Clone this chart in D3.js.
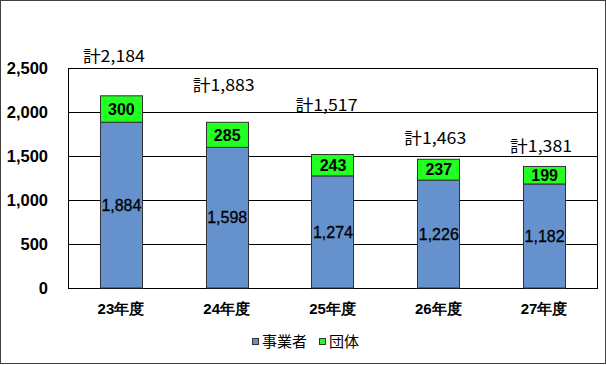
<!DOCTYPE html>
<html>
<head>
<meta charset="utf-8">
<script src="https://cdn.jsdelivr.net/npm/d3@7"></script>
<style>
  body { margin: 0; background: #fff; }
  svg text { font-family: "Liberation Sans", Arial, sans-serif; }
  .jp { font-family: "Noto Sans CJK JP", sans-serif; }
</style>
</head>
<body>
<div id="chart"></div>
<script>
// data
var years = ["23年度", "24年度", "25年度", "26年度", "27年度"];
var jigyosha = [1884, 1598, 1274, 1226, 1182];
var dantai = [300, 285, 243, 237, 199];
var totals = [2184, 1883, 1517, 1463, 1381];
var yTicks = [0, 500, 1000, 1500, 2000, 2500];
var seriesNames = ["事業者", "団体"];
var seriesColors = ["#6591cd", "#22ff22"];

// where the hand-placed "計" labels sit (value units) and their x nudge
var totalLabelAt = [2630, 2300, 2080, 1700, 1610];
var totalLabelDx = [-7, -3, -6, -3, -3];

var w = 606, h = 365;
var margin = {top: 68, right: 9, bottom: 77, left: 68};

var svg = d3.select("#chart").append("svg")
    .attr("width", w)
    .attr("height", h);

// outer frame
svg.append("rect")
    .attr("x", 0.5).attr("y", 0.5)
    .attr("width", w - 1).attr("height", h - 2)
    .attr("fill", "#fff")
    .attr("stroke", "#404040");

var xScale = d3.scaleBand()
    .domain(years)
    .range([margin.left, w - margin.right])
    .paddingInner(0.6)
    .paddingOuter(0.3);

var yScale = d3.scaleLinear()
    .domain([0, 2500])
    .range([h - margin.bottom, margin.top]);

// gridlines
svg.append("g").selectAll("line").data(yTicks.slice(1, -1))
    .enter().append("line")
    .attr("x1", margin.left).attr("x2", w - margin.right)
    .attr("y1", function(d) { return Math.round(yScale(d)) + 0.5; })
    .attr("y2", function(d) { return Math.round(yScale(d)) + 0.5; })
    .attr("stroke", "#000");

// plot border
svg.append("rect")
    .attr("x", margin.left + 0.5).attr("y", Math.round(yScale(2500)) + 0.5)
    .attr("width", w - margin.right - margin.left)
    .attr("height", Math.round(yScale(0)) - Math.round(yScale(2500)))
    .attr("fill", "none")
    .attr("stroke", "#000");

// y axis labels
var yAxis = d3.axisLeft(yScale).tickValues(yTicks).tickSize(0).tickPadding(20)
    .tickFormat(d3.format(","));
var yAxisGroup = svg.append("g")
    .attr("transform", "translate(" + [margin.left, 0] + ")")
    .call(yAxis);
yAxisGroup.select(".domain").remove();
yAxisGroup.selectAll("text")
    .attr("font-family", "'Liberation Sans', Arial, sans-serif")
    .attr("font-size", 16.5)
    .attr("font-weight", "bold")
    .attr("fill", "#000");

// x axis labels
var xAxis = d3.axisBottom(xScale).tickSize(0).tickPadding(15);
var xAxisGroup = svg.append("g")
    .attr("transform", "translate(" + [0, yScale(0)] + ")")
    .call(xAxis);
xAxisGroup.select(".domain").remove();
xAxisGroup.selectAll("text")
    .attr("font-family", "'Noto Sans CJK JP', sans-serif")
    .attr("font-size", 15)
    .attr("font-weight", "bold")
    .attr("fill", "#000");

var stack = years.map(function(y, i) {
    return {year: y, a: jigyosha[i], b: dantai[i], total: totals[i], i: i};
});

// 事業者 bars
svg.append("g").selectAll("rect").data(stack)
    .enter().append("rect")
    .attr("x", function(d) { return Math.round(xScale(d.year)) + 0.5; })
    .attr("y", function(d) { return yScale(d.a); })
    .attr("width", Math.round(xScale.bandwidth()))
    .attr("height", function(d) { return yScale(0) - yScale(d.a); })
    .attr("fill", seriesColors[0])
    .attr("stroke", "#333");

// 団体 bars
svg.append("g").selectAll("rect").data(stack)
    .enter().append("rect")
    .attr("x", function(d) { return Math.round(xScale(d.year)) + 0.5; })
    .attr("y", function(d) { return yScale(d.a + d.b); })
    .attr("width", Math.round(xScale.bandwidth()))
    .attr("height", function(d) { return yScale(d.a) - yScale(d.a + d.b); })
    .attr("fill", seriesColors[1])
    .attr("stroke", "#333");

var fmt = d3.format(",");

// value labels
svg.append("g").selectAll("text").data(stack)
    .enter().append("text")
    .attr("x", function(d) { return xScale(d.year) + xScale.bandwidth() / 2 + 0.5; })
    .attr("y", function(d) { return (yScale(0) + yScale(d.a)) / 2; })
    .attr("dy", "0.36em")
    .attr("text-anchor", "middle")
    .attr("font-size", 16)
    .attr("fill", "#000")
    .attr("stroke", "#000")
    .attr("stroke-width", 0.3)
    .text(function(d) { return fmt(d.a); });

svg.append("g").selectAll("text").data(stack)
    .enter().append("text")
    .attr("x", function(d) { return xScale(d.year) + xScale.bandwidth() / 2 + 0.5; })
    .attr("y", function(d) { return (yScale(d.a) + yScale(d.a + d.b)) / 2; })
    .attr("dy", "0.36em")
    .attr("text-anchor", "middle")
    .attr("font-size", 16)
    .attr("font-weight", "bold")
    .attr("fill", "#000")
    .text(function(d) { return fmt(d.b); });

// total labels
svg.append("g").selectAll("text").data(stack)
    .enter().append("text")
    .attr("class", "jp")
    .attr("x", function(d) { return xScale(d.year) + xScale.bandwidth() / 2 + totalLabelDx[d.i]; })
    .attr("y", function(d) { return yScale(totalLabelAt[d.i]); })
    .attr("dy", "0.36em")
    .attr("text-anchor", "middle")
    .attr("font-size", 16)
    .attr("fill", "#000")
    .attr("textLength", 62)
    .attr("lengthAdjust", "spacingAndGlyphs")
    .text(function(d) { return "計" + fmt(d.total); });

// legend
var legendX = [252, 319];
var legend = svg.append("g").selectAll("g").data(seriesNames)
    .enter().append("g")
    .attr("transform", function(d, i) { return "translate(" + [legendX[i], 338] + ")"; });
legend.append("rect")
    .attr("x", 0.5).attr("y", 0.5)
    .attr("width", 6).attr("height", 6)
    .attr("fill", function(d, i) { return seriesColors[i]; })
    .attr("stroke", "#333");
legend.append("text")
    .attr("class", "jp")
    .attr("x", 10).attr("y", 3.5)
    .attr("dy", "0.36em")
    .attr("font-size", 15)
    .attr("fill", "#000")
    .text(function(d) { return d; });
</script>
</body>
</html>
